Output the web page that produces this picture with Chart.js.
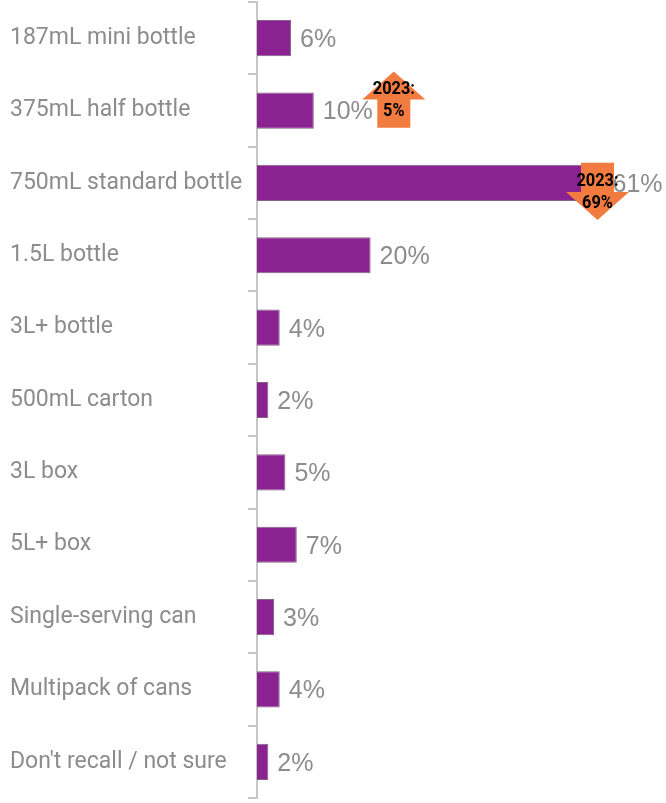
<!DOCTYPE html>
<html>
<head>
<meta charset="utf-8">
<title>Wine formats purchased</title>
<script src="https://cdn.jsdelivr.net/npm/chart.js@4/dist/chart.umd.min.js"></script>
<style>
  html, body { margin: 0; padding: 0; background: #fff; }
  #wrap { width: 666px; height: 803px; }
</style>
</head>
<body>
<div id="wrap"><canvas id="formatChart" width="666" height="803"></canvas></div>
<script>
// Share of respondents by package format
const formats = [
    '187mL mini bottle',
    '375mL half bottle',
    '750mL standard bottle',
    '1.5L bottle',
    '3L+ bottle',
    '500mL carton',
    '3L box',
    '5L+ box',
    'Single-serving can',
    'Multipack of cans',
    "Don't recall / not sure"
];
const shares = [6, 10, 61, 20, 4, 2, 5, 7, 3, 4, 2];

// Prior-year comparison callouts
const priorFormats = ['375mL half bottle', '750mL standard bottle'];
const priorShares = [5, 69];

const BAR_COLOR = '#8a2391';
const LABEL_GREY = '#8c8c8c';
const AXIS_GREY = '#c6c6c6';
const ARROW_COLOR = '#f27b40';

// Value labels to the right of each bar
const valueLabels = {
    id: 'valueLabels',
    afterDatasetsDraw(chart) {
        const { ctx } = chart;
        const meta = chart.getDatasetMeta(0);
        ctx.save();
        ctx.font = '25px "Liberation Sans", Arial, sans-serif';
        ctx.fillStyle = LABEL_GREY;
        ctx.textAlign = 'left';
        ctx.textBaseline = 'middle';
        meta.data.forEach((bar, i) => {
            ctx.fillText(shares[i] + '%', bar.x + 9, bar.y + 2);
        });
        ctx.restore();
    }
};

// Orange up/down arrows comparing with the previous year
const priorArrows = {
    id: 'priorArrows',
    afterDraw(chart) {
        const { ctx } = chart;
        const meta = chart.getDatasetMeta(0);
        ctx.save();
        priorFormats.forEach((name, k) => {
            const i = formats.indexOf(name);
            const bar = meta.data[i];
            const half = bar.height / 2;
            const up = shares[i] > priorShares[k];
            const shaftW = 33, headW = 63, headLen = 28;
            let cx, top, bottom;
            if (up) {
                cx = bar.x + 80;
                top = bar.y - half - 21;
                bottom = bar.y + half - 1;
            } else {
                cx = bar.x - 6;
                top = bar.y - half - 2;
                bottom = bar.y + half + 19;
            }
            ctx.fillStyle = ARROW_COLOR;
            ctx.beginPath();
            if (up) {
                ctx.moveTo(cx, top);
                ctx.lineTo(cx + headW / 2, top + headLen);
                ctx.lineTo(cx + shaftW / 2, top + headLen);
                ctx.lineTo(cx + shaftW / 2, bottom);
                ctx.lineTo(cx - shaftW / 2, bottom);
                ctx.lineTo(cx - shaftW / 2, top + headLen);
                ctx.lineTo(cx - headW / 2, top + headLen);
            } else {
                ctx.moveTo(cx - shaftW / 2, top);
                ctx.lineTo(cx + shaftW / 2, top);
                ctx.lineTo(cx + shaftW / 2, bottom - headLen);
                ctx.lineTo(cx + headW / 2, bottom - headLen);
                ctx.lineTo(cx, bottom);
                ctx.lineTo(cx - headW / 2, bottom - headLen);
                ctx.lineTo(cx - shaftW / 2, bottom - headLen);
            }
            ctx.closePath();
            ctx.fill();

            // condensed black caption
            const mid = (top + bottom) / 2;
            ctx.save();
            ctx.translate(cx, mid);
            ctx.scale(0.86, 1);
            ctx.fillStyle = '#000';
            ctx.font = 'bold 19px Roboto, sans-serif';
            ctx.textAlign = 'center';
            ctx.textBaseline = 'middle';
            ctx.fillText('2023:', 0, -10);
            ctx.fillText(priorShares[k] + '%', 0, 12);
            ctx.restore();
        });
        ctx.restore();
    }
};

new Chart(document.getElementById('formatChart'), {
    type: 'bar',
    data: {
        labels: formats,
        datasets: [{
            data: shares,
            backgroundColor: BAR_COLOR,
            borderColor: 'rgba(105, 70, 110, 0.85)',
            borderWidth: 1,
            borderSkipped: 'left',
            barPercentage: 0.5,
            categoryPercentage: 1
        }]
    },
    options: {
        indexAxis: 'y',
        responsive: false,
        animation: false,
        devicePixelRatio: 1,
        layout: { padding: { left: 10, right: 0, top: 2, bottom: 5 } },
        plugins: {
            legend: { display: false },
            tooltip: { enabled: false }
        },
        scales: {
            x: {
                display: false,
                min: 0,
                max: 72
            },
            y: {
                afterFit(scale) {
                    scale.width = 247;
                    scale.paddingTop = 0;
                    scale.paddingBottom = 0;
                },
                border: { display: true, color: AXIS_GREY, width: 2 },
                grid: {
                    offset: true,
                    drawOnChartArea: false,
                    drawTicks: true,
                    tickLength: 9,
                    color: AXIS_GREY,
                    lineWidth: 2
                },
                ticks: {
                    crossAlign: 'far',
                    padding: 4,
                    color: LABEL_GREY,
                    font: { family: 'Roboto', size: 23 }
                }
            }
        }
    },
    plugins: [valueLabels, priorArrows]
});
</script>
</body>
</html>
